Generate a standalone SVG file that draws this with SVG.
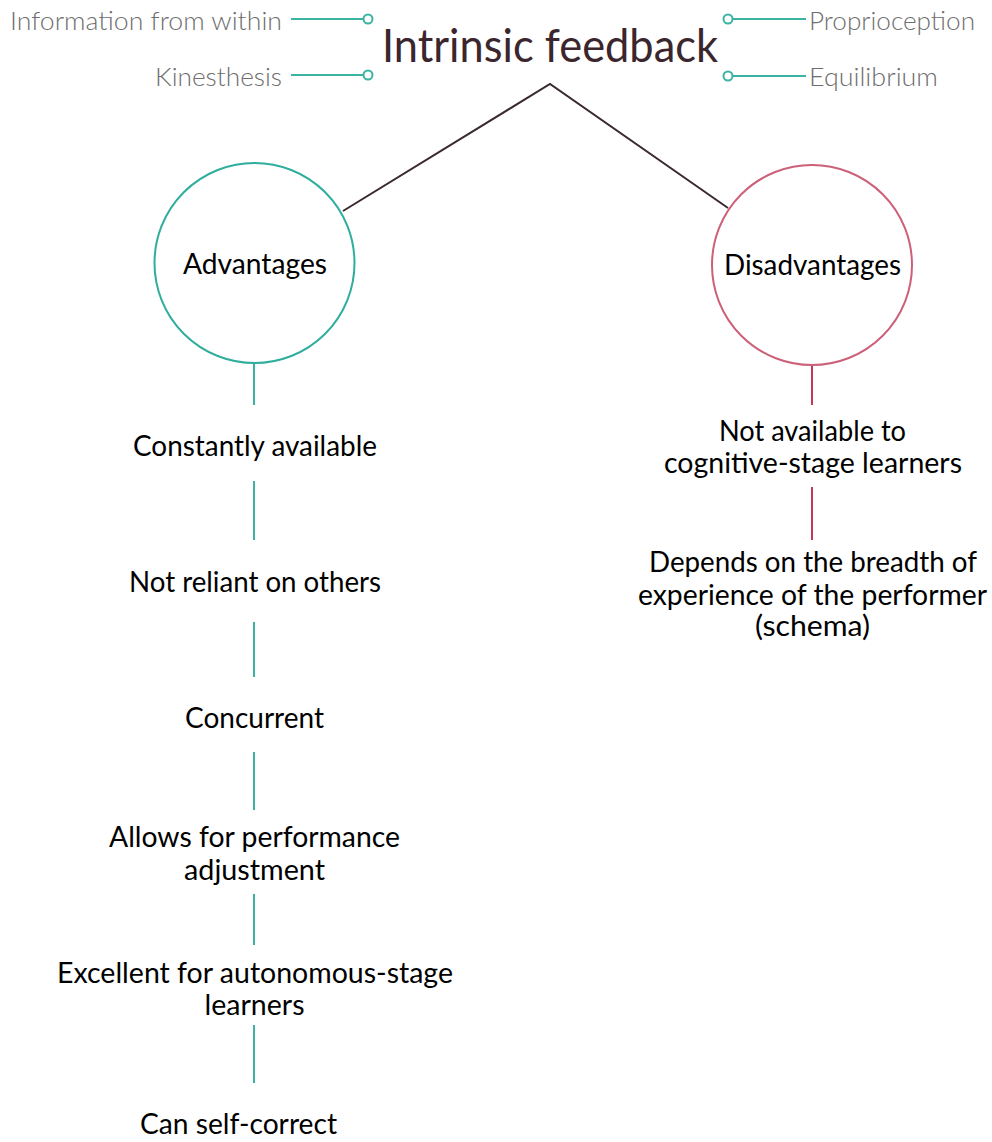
<svg xmlns="http://www.w3.org/2000/svg" width="992" height="1142" viewBox="0 0 992 1142">
<style>
text{font-family:"Lato","Noto Sans","Liberation Sans",sans-serif;text-anchor:middle;}
.t{font-size:28px;fill:#000;}
.s{font-size:26px;fill:#6e6e6e;font-weight:300;}
.ti{font-size:47px;fill:#3a262c;}
.tl{stroke:#3bb3a3;stroke-width:2;fill:none;}
.rl{stroke:#c2395a;stroke-width:2;fill:none;}
.dl{stroke:#3a2a2e;stroke-width:2;fill:none;}
.dot{fill:#fff;stroke:#3bb3a3;stroke-width:2;}
</style>
<rect width="992" height="1142" fill="#fff"/>
<g id="connectors">
<line class="tl" x1="291" y1="19" x2="363" y2="19"/>
<line class="tl" x1="291" y1="75" x2="363" y2="75"/>
<line class="tl" x1="733" y1="19" x2="806" y2="19"/>
<line class="tl" x1="733" y1="76" x2="806" y2="76"/>
<circle class="dot" cx="368" cy="19" r="4.5"/>
<circle class="dot" cx="368" cy="75" r="4.5"/>
<circle class="dot" cx="728" cy="19" r="4.5"/>
<circle class="dot" cx="728" cy="76" r="4.5"/>
<polyline class="dl" points="343,211 550,84 728,208"/>
<line class="tl" x1="254" y1="363" x2="254" y2="405"/>
<line class="tl" x1="254" y1="481" x2="254" y2="540"/>
<line class="tl" x1="254" y1="622" x2="254" y2="677"/>
<line class="tl" x1="254" y1="752" x2="254" y2="810"/>
<line class="tl" x1="254" y1="894" x2="254" y2="945"/>
<line class="tl" x1="254" y1="1025" x2="254" y2="1083"/>
<line class="rl" x1="812" y1="365" x2="812" y2="405"/>
<line class="rl" x1="812" y1="487" x2="812" y2="540"/>
</g>
<g id="title"><text class="ti" x="550" y="62" textLength="336" lengthAdjust="spacingAndGlyphs">Intrinsic feedback</text></g>
<g id="label-information"><text class="s" x="146" y="30" textLength="272" lengthAdjust="spacingAndGlyphs">Information from within</text></g>
<g id="label-kinesthesis"><text class="s" x="218.5" y="86" textLength="127" lengthAdjust="spacingAndGlyphs">Kinesthesis</text></g>
<g id="label-proprioception"><text class="s" x="892" y="30" textLength="166" lengthAdjust="spacingAndGlyphs">Proprioception</text></g>
<g id="label-equilibrium"><text class="s" x="873.5" y="86" textLength="129" lengthAdjust="spacingAndGlyphs">Equilibrium</text></g>
<g id="advantages">
<circle cx="254.5" cy="263" r="100" fill="#fff" stroke="#2fad9d" stroke-width="2"/>
<text class="t" x="255" y="274" textLength="144" lengthAdjust="spacingAndGlyphs">Advantages</text>
</g>
<g id="disadvantages">
<circle cx="812" cy="265" r="100" fill="#fff" stroke="#cc6078" stroke-width="2"/>
<text class="t" x="812.5" y="275" textLength="177" lengthAdjust="spacingAndGlyphs">Disadvantages</text>
</g>
<g id="adv-1"><text class="t" x="255" y="456" textLength="244" lengthAdjust="spacingAndGlyphs">Constantly available</text></g>
<g id="adv-2"><text class="t" x="255" y="592" textLength="252" lengthAdjust="spacingAndGlyphs">Not reliant on others</text></g>
<g id="adv-3"><text class="t" x="254.5" y="728" textLength="139" lengthAdjust="spacingAndGlyphs">Concurrent</text></g>
<g id="adv-4">
<text class="t" x="254.5" y="847" textLength="291" lengthAdjust="spacingAndGlyphs">Allows for performance</text>
<text class="t" x="254.5" y="880" textLength="141" lengthAdjust="spacingAndGlyphs">adjustment</text>
</g>
<g id="adv-5">
<text class="t" x="255" y="983" textLength="396" lengthAdjust="spacingAndGlyphs">Excellent for autonomous-stage</text>
<text class="t" x="254.5" y="1015" textLength="100" lengthAdjust="spacingAndGlyphs">learners</text>
</g>
<g id="adv-6"><text class="t" x="238.5" y="1134" textLength="197" lengthAdjust="spacingAndGlyphs">Can self-correct</text></g>
<g id="dis-1">
<text class="t" x="812.5" y="441" textLength="187" lengthAdjust="spacingAndGlyphs">Not available to</text>
<text class="t" x="813" y="473" textLength="298" lengthAdjust="spacingAndGlyphs">cognitive-stage learners</text>
</g>
<g id="dis-2">
<text class="t" x="813" y="572" textLength="328" lengthAdjust="spacingAndGlyphs">Depends on the breadth of</text>
<text class="t" x="812.5" y="605" textLength="349" lengthAdjust="spacingAndGlyphs">experience of the performer</text>
<text class="t" x="812.5" y="636" textLength="115" lengthAdjust="spacingAndGlyphs">(schema)</text>
</g>
</svg>
